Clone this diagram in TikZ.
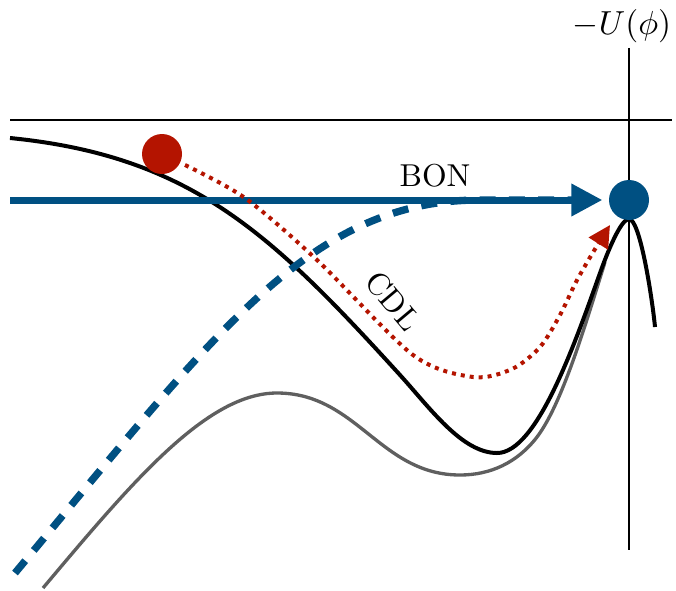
\documentclass[tikz,border=0pt]{standalone}
\usepackage{amsmath}
\usetikzlibrary{arrows.meta}
\definecolor{bonblue}{RGB}{0, 80, 130}
\definecolor{cdlred}{RGB}{180, 20, 0}
\definecolor{potgray}{RGB}{95, 95, 95}

\tikzset{
  axisline/.style={line width=0.6pt},
  potential/.style={line width=1.2pt},
  ball/.style={circle, minimum size=12pt, inner sep=0pt},
  bonpath/.style={bonblue, line width=2.1pt, -{Triangle[length=9.3pt,width=9.3pt]}},
  bondash/.style={bonblue, line width=2.2pt, dash pattern=on 4.8pt off 4pt},
  cdlpath/.style={cdlred, line width=1.2pt, dash pattern=on 1.2pt off 1.5pt,
    -{Triangle[length=6.6pt,width=6.6pt]}},
  label/.style={font=\fontsize{9.5}{11}\selectfont}
}

\begin{document}
\begin{tikzpicture}[x=0.3pt, y=-0.3pt]
  \useasboundingbox (0,0) rectangle (676,590);

  % axes
  \coordinate (hleft) at (10,120);
  \coordinate (hright) at (672,120);
  \coordinate (vtop) at (629,48);
  \coordinate (vbot) at (629,550);
  \draw[axisline] (hleft) -- (hright);
  \draw[axisline] (vtop) -- (vbot);
  \node[anchor=base, font=\fontsize{10}{12}\selectfont] (ulabel) at (622,35) {$-U(\phi)$};

  % potentials
  \draw[potential, potgray, line width=1pt] (43,588)
    .. controls (133,481) and (207,393) .. (277,393)
    .. controls (357,393) and (380,475) .. (460,475)
    .. controls (490,475) and (517,463) .. (537,437)
    .. controls (562,404) and (585,326) .. (605,262);
  \draw[potential] (10,138)
    .. controls (190,156) and (270,232) .. (400,375)
    .. controls (430,408) and (462,453) .. (497,453)
    .. controls (537,453) and (575,343) .. (600,273)
    .. controls (608,250.6) and (621,219) .. (629,219)
    .. controls (640,219) and (652,297) .. (655,327);

  % balls
  \node[ball, fill=cdlred] (redball) at (162,154) {};
  \node[ball, fill=bonblue] (blueball) at (629,200) {};
  \coordinate (bonstart) at (10,200);

  % BON
  \draw[bondash] (15,573) .. controls (215,333) and (310,200) .. (480,200) -- (590,200);
  \draw[bonpath, shorten >=1.8pt] (bonstart) -- (blueball);
  \node[label] (bon) at (435,176) {BON};

  % CDL
  \draw[cdlpath] plot[smooth] coordinates {
    (185,165) (245,198) (317,260) (413,355) (473,377) (512,369) (540,347)
    (560,315) (576,282) (592,254) (610,225)};
  \node[label, rotate=-50] (cdl) at (393,301) {CDL};
\end{tikzpicture}
\end{document}
